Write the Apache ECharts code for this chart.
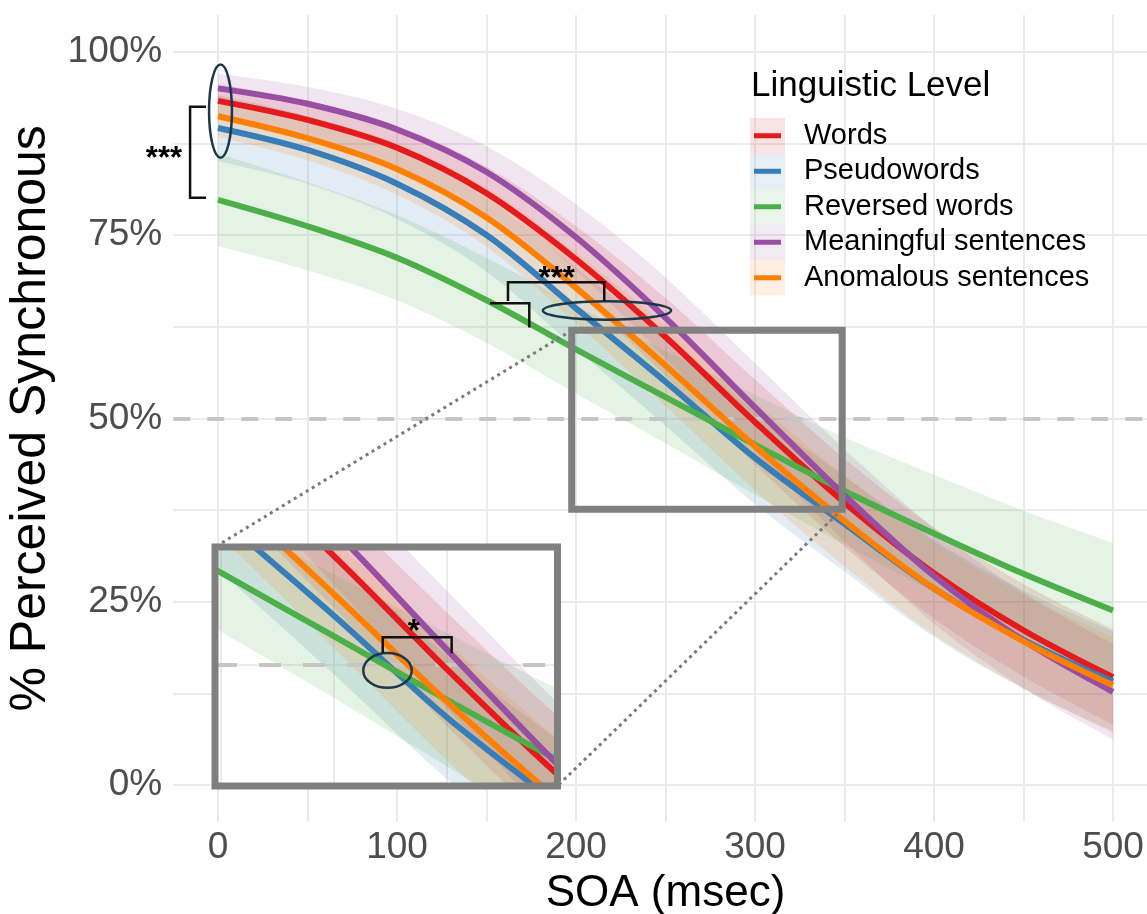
<!DOCTYPE html>
<html>
<head>
<meta charset="utf-8">
<title>Perceived synchrony by SOA</title>
<script src="https://cdn.jsdelivr.net/npm/echarts@6/dist/echarts.min.js"></script>
<style>
  html, body { margin: 0; padding: 0; background: #fff; }
  #chart { width: 1147px; height: 914px; }
</style>
</head>
<body>
<div id="chart"></div>
<script>
// SOA values (msec) where the fitted curves were read
var soa = [0, 50, 100, 150, 200, 250, 300, 350, 400, 450, 500];

var levels = ["Words", "Pseudowords", "Reversed words", "Meaningful sentences", "Anomalous sentences"];
var colors = ["#e41a1c", "#377eb8", "#4daf4a", "#984ea3", "#ff7f00"];

// % perceived synchronous, fitted curve + confidence band
var words        = [93.3, 90.7, 86.9, 80.7, 71.7, 61.1, 49.5, 38.5, 28.9, 21.1, 14.7];
var wordsLo      = [91.0, 88.1, 83.9, 77.1, 67.2, 55.8, 43.7, 32.5, 22.7, 14.8, 8.2];
var wordsHi      = [95.6, 93.3, 89.9, 84.3, 76.2, 66.4, 55.3, 44.5, 35.1, 27.4, 21.2];
var pseudo       = [89.6, 86.6, 82.0, 75.0, 65.0, 55.0, 44.6, 35.6, 26.8, 19.8, 14.1];
var pseudoLo     = [85.1, 82.0, 77.2, 70.0, 59.5, 49.0, 38.3, 29.1, 20.2, 13.1, 7.3];
var pseudoHi     = [94.1, 91.2, 86.8, 80.0, 70.5, 61.0, 50.9, 42.1, 33.4, 26.5, 20.9];
var reversed     = [79.8, 76.2, 71.9, 66.1, 59.4, 52.9, 46.4, 40.1, 34.3, 28.8, 23.8];
var reversedLo   = [73.5, 70.2, 66.1, 60.3, 53.4, 46.6, 39.6, 32.8, 26.3, 20.2, 14.6];
var reversedHi   = [86.1, 82.2, 77.7, 71.9, 65.4, 59.2, 53.2, 47.4, 42.3, 37.4, 33.0];
var meaningful   = [95.0, 92.9, 89.4, 83.6, 74.7, 63.7, 51.5, 39.5, 28.5, 19.7, 12.7];
var meaningfulLo = [93.0, 90.6, 86.6, 80.1, 70.2, 58.2, 45.5, 33.2, 22.0, 13.2, 6.2];
var meaningfulHi = [97.0, 95.2, 92.2, 87.1, 79.2, 69.2, 57.5, 45.8, 35.0, 26.2, 19.2];
var anomalous    = [91.2, 88.2, 84.0, 77.4, 67.8, 57.2, 46.2, 36.0, 26.8, 19.6, 13.6];
var anomalousLo  = [88.4, 85.2, 80.5, 73.4, 63.0, 51.7, 40.2, 29.8, 20.5, 13.2, 7.1];
var anomalousHi  = [94.0, 91.2, 87.5, 81.4, 72.6, 62.7, 52.2, 42.2, 33.1, 26.0, 20.1];

var curves = [words, pseudo, reversed, meaningful, anomalous];
var lows   = [wordsLo, pseudoLo, reversedLo, meaningfulLo, anomalousLo];
var highs  = [wordsHi, pseudoHi, reversedHi, meaningfulHi, anomalousHi];

// axes
var xTicks = [0, 100, 200, 300, 400, 500];
var xGrid  = [0, 50, 100, 150, 200, 250, 300, 350, 400, 450, 500];
var yTicks = [0, 25, 50, 75, 100];
var yGrid  = [0, 12.5, 25, 37.5, 50, 62.5, 75, 87.5, 100];
var refLine = 50;

// zoomed region shown in the inset
var zoomX = [197.6, 348.7];
var zoomY = [37.6, 62.0];

// significance annotations, data units (ellipse rx/ry too)
var mainEllipses = [
  { c: [1.4, 91.9], rx: 6.4, ry: 6.35 },
  { c: [217.3, 64.7], rx: 35.8, ry: 1.26 }
];
var mainBrackets = [
  [[-6.7, 92.5], [-15.6, 92.5], [-15.6, 80.1], [-6.7, 80.1]],
  [[162, 66.0], [162, 68.55], [215.8, 68.55], [215.8, 66.0]],
  [[152, 65.7], [173.9, 65.7], [173.9, 62.4]]
];
var mainStars = [
  { at: [-30.2, 86.2], text: "***" },
  { at: [189.2, 69.9], text: "***" }
];
var insetEllipses = [{ c: [273.7, 49.4], rx: 10.7, ry: 1.77 }];
var insetBrackets = [[[271.6, 51.2], [271.6, 52.78], [302.0, 52.78], [302.0, 51.15]]];
var insetStars = [{ at: [285.3, 54.0], text: "*" }];

var FONT = "'Liberation Sans', Arial, Helvetica, sans-serif";
var mainBox = { left: 173.25, top: 15.05, width: 984.5, height: 806.6 };
var insetBox = { left: 215, top: 547, width: 342.5, height: 239 };
var bandAlpha = 0.15;

function fade(hex, a) {
  var n = parseInt(hex.slice(1), 16);
  return "rgba(" + (n >> 16) + "," + ((n >> 8) & 255) + "," + (n & 255) + "," + a + ")";
}

function pairs(ys) {
  return soa.map(function (x, j) { return [x, ys[j]]; });
}

// catmull-rom through pixel points, so band edges are drawn curved like the lines
function spline(p) {
  var out = [], steps = 10;
  for (var k = 0; k < p.length - 1; k++) {
    var p0 = p[Math.max(k - 1, 0)], p1 = p[k], p2 = p[k + 1], p3 = p[Math.min(k + 2, p.length - 1)];
    for (var s = 0; s < steps; s++) {
      var t = s / steps, t2 = t * t, t3 = t2 * t;
      out.push([0, 1].map(function (d) {
        return 0.5 * (2 * p1[d] + (p2[d] - p0[d]) * t + (2 * p0[d] - 5 * p1[d] + 4 * p2[d] - p3[d]) * t2 +
               (3 * p1[d] - p0[d] - 3 * p2[d] + p3[d]) * t3);
      }));
    }
  }
  out.push(p[p.length - 1]);
  return out;
}

function bandSeries(g, i, z) {
  return { type: "custom", name: levels[i] + " band", xAxisIndex: g, yAxisIndex: g, z: z,
    silent: true, clip: true, animation: false,
    data: [[soa[0], lows[i][0]]],
    renderItem: function (params, api) {
      var up = soa.map(function (x, j) { return api.coord([x, highs[i][j]]); });
      var dn = soa.map(function (x, j) { return api.coord([x, lows[i][j]]); });
      return { type: "polygon", shape: { points: spline(up).concat(spline(dn).reverse()) },
               style: { fill: fade(colors[i], bandAlpha) } };
    } };
}

function curveSeries(g, zBand, zLine) {
  var out = [];
  for (var i = 0; i < levels.length; i++) out.push(bandSeries(g, i, zBand));
  for (var k = 0; k < levels.length; k++) {
    out.push({ type: "line", name: levels[k], xAxisIndex: g, yAxisIndex: g, smooth: 0.33,
               symbol: "none", silent: true, animation: false, z: zLine,
               data: pairs(curves[k]), lineStyle: { color: colors[k], width: 6 } });
  }
  return out;
}

function gridLines(g, xs, ys, z) {
  return { type: "line", xAxisIndex: g, yAxisIndex: g, data: [], silent: true, z: z,
    markLine: { z: z, silent: true, animation: false, symbol: ["none", "none"], label: { show: false },
      lineStyle: { color: "#ebebeb", width: 2, type: "solid" },
      data: xs.map(function (v) { return { xAxis: v }; }).concat(ys.map(function (v) { return { yAxis: v }; })) } };
}

function dashed(g, z, dash) {
  return { type: "line", xAxisIndex: g, yAxisIndex: g, data: [], silent: true, z: z,
    markLine: { z: z, silent: true, animation: false, symbol: ["none", "none"], label: { show: false },
      lineStyle: { color: "#c6c6c6", width: 4, type: dash },
      data: [{ yAxis: refLine }] } };
}

var inside = function (r) { return function (v) { return v > r[0] && v < r[1]; }; };

var chart = echarts.init(document.getElementById("chart"));
var series = [].concat(
  [gridLines(0, xGrid, yGrid, 1)],
  curveSeries(0, 2, 4),
  [dashed(0, 3, [17, 17])],
  [gridLines(1, xGrid.filter(inside(zoomX)), yGrid.filter(inside(zoomY)), 6)],
  curveSeries(1, 7, 9),
  [dashed(1, 8, [22, 22])]
);

var option = {
  animation: false,
  backgroundColor: "#fff",
  textStyle: { fontFamily: FONT },
  grid: [
    { left: mainBox.left, top: mainBox.top, width: mainBox.width, height: mainBox.height, outerBoundsMode: "none" },
    { left: insetBox.left, top: insetBox.top, width: insetBox.width, height: insetBox.height, outerBoundsMode: "none" }
  ],
  xAxis: [
    { type: "value", gridIndex: 0, min: -25, max: 525,
      name: "SOA (msec)", nameLocation: "middle", nameGap: 50,
      nameTextStyle: { fontSize: 44, color: "#000", fontFamily: FONT },
      axisLine: { show: false }, axisTick: { show: false }, splitLine: { show: false },
      axisLabel: { customValues: xTicks, fontSize: 37, color: "#4d4d4d", margin: 8, fontFamily: FONT } },
    { type: "value", gridIndex: 1, min: zoomX[0], max: zoomX[1], show: false, splitLine: { show: false } }
  ],
  yAxis: [
    { type: "value", gridIndex: 0, min: -5, max: 105,
      name: "% Perceived Synchronous", nameLocation: "middle", nameGap: 108, nameRotate: 90,
      nameTextStyle: { fontSize: 50, color: "#000", fontFamily: FONT },
      axisLine: { show: false }, axisTick: { show: false }, splitLine: { show: false },
      axisLabel: { customValues: yTicks, formatter: "{value}%", fontSize: 37, color: "#4d4d4d",
                   margin: 11, fontFamily: FONT } },
    { type: "value", gridIndex: 1, min: zoomY[0], max: zoomY[1], show: false, splitLine: { show: false } }
  ],
  series: series
};
chart.setOption(option);

// annotations, inset frame and legend drawn on top
function px(g, p) { return chart.convertToPixel({ gridIndex: g }, p); }

var ink = "#111";
var ringInk = "#1b374a";
var els = [];

els.push({ type: "rect", z: 5, silent: true,
  shape: { x: insetBox.left, y: insetBox.top, width: insetBox.width, height: insetBox.height },
  style: { fill: "#fff" } });

var b1 = px(0, [zoomX[0], zoomY[1]]), b2 = px(0, [zoomX[1], zoomY[0]]);
els.push({ type: "line", z: 19, silent: true,
  shape: { x1: b1[0], y1: b1[1], x2: insetBox.left, y2: insetBox.top },
  style: { stroke: "#7a7a7a", lineWidth: 3, lineDash: [3, 4] } });
els.push({ type: "line", z: 19, silent: true,
  shape: { x1: b2[0], y1: b2[1], x2: insetBox.left + insetBox.width, y2: insetBox.top + insetBox.height },
  style: { stroke: "#7a7a7a", lineWidth: 3, lineDash: [3, 4] } });
els.push({ type: "rect", z: 20, silent: true,
  shape: { x: b1[0], y: b1[1], width: b2[0] - b1[0], height: b2[1] - b1[1] },
  style: { fill: "none", stroke: "#808080", lineWidth: 7 } });
els.push({ type: "rect", z: 20, silent: true,
  shape: { x: insetBox.left, y: insetBox.top, width: insetBox.width, height: insetBox.height },
  style: { fill: "none", stroke: "#808080", lineWidth: 7 } });

function addNotes(g, ellipses, brackets, stars) {
  ellipses.forEach(function (e) {
    var c = px(g, e.c), ex = px(g, [e.c[0] + e.rx, e.c[1]]), ey = px(g, [e.c[0], e.c[1] + e.ry]);
    els.push({ type: "ellipse", z: 21, silent: true,
      shape: { cx: c[0], cy: c[1], rx: Math.abs(ex[0] - c[0]), ry: Math.abs(c[1] - ey[1]) },
      style: { fill: "none", stroke: ringInk, lineWidth: 2.5 } });
  });
  brackets.forEach(function (b) {
    els.push({ type: "polyline", z: 21, silent: true,
      shape: { points: b.map(function (p) { return px(g, p); }) },
      style: { fill: "none", stroke: ink, lineWidth: 2.5 } });
  });
  stars.forEach(function (s) {
    var p = px(g, s.at);
    els.push({ type: "text", z: 21, silent: true, x: p[0], y: p[1] + 7,
      style: { text: s.text, fontSize: 31, fontWeight: "bold", fontFamily: FONT, fill: "#000",
               align: "center", verticalAlign: "middle" } });
  });
}
addNotes(0, mainEllipses, mainBrackets, mainStars);
addNotes(1, insetEllipses, insetBrackets, insetStars);

// legend
var lgX = 750, lgY = 118, lgRow = 35.5;
els.push({ type: "text", z: 22, silent: true, x: 751, y: 86,
  style: { text: "Linguistic Level", fontSize: 35, fontFamily: FONT, fill: "#000", align: "left", verticalAlign: "middle" } });
levels.forEach(function (name, i) {
  var top = lgY + i * lgRow;
  els.push({ type: "rect", z: 22, silent: true, shape: { x: lgX, y: top, width: 35, height: lgRow },
    style: { fill: fade(colors[i], 0.12) } });
  els.push({ type: "line", z: 23, silent: true,
    shape: { x1: lgX + 4, y1: top + lgRow / 2, x2: lgX + 31, y2: top + lgRow / 2 },
    style: { stroke: colors[i], lineWidth: 5 } });
  els.push({ type: "text", z: 23, silent: true, x: 804, y: top + lgRow / 2,
    style: { text: name, fontSize: 29, fontFamily: FONT, fill: "#000", align: "left", verticalAlign: "middle" } });
});

chart.setOption({ graphic: { elements: els } });
</script>
</body>
</html>
